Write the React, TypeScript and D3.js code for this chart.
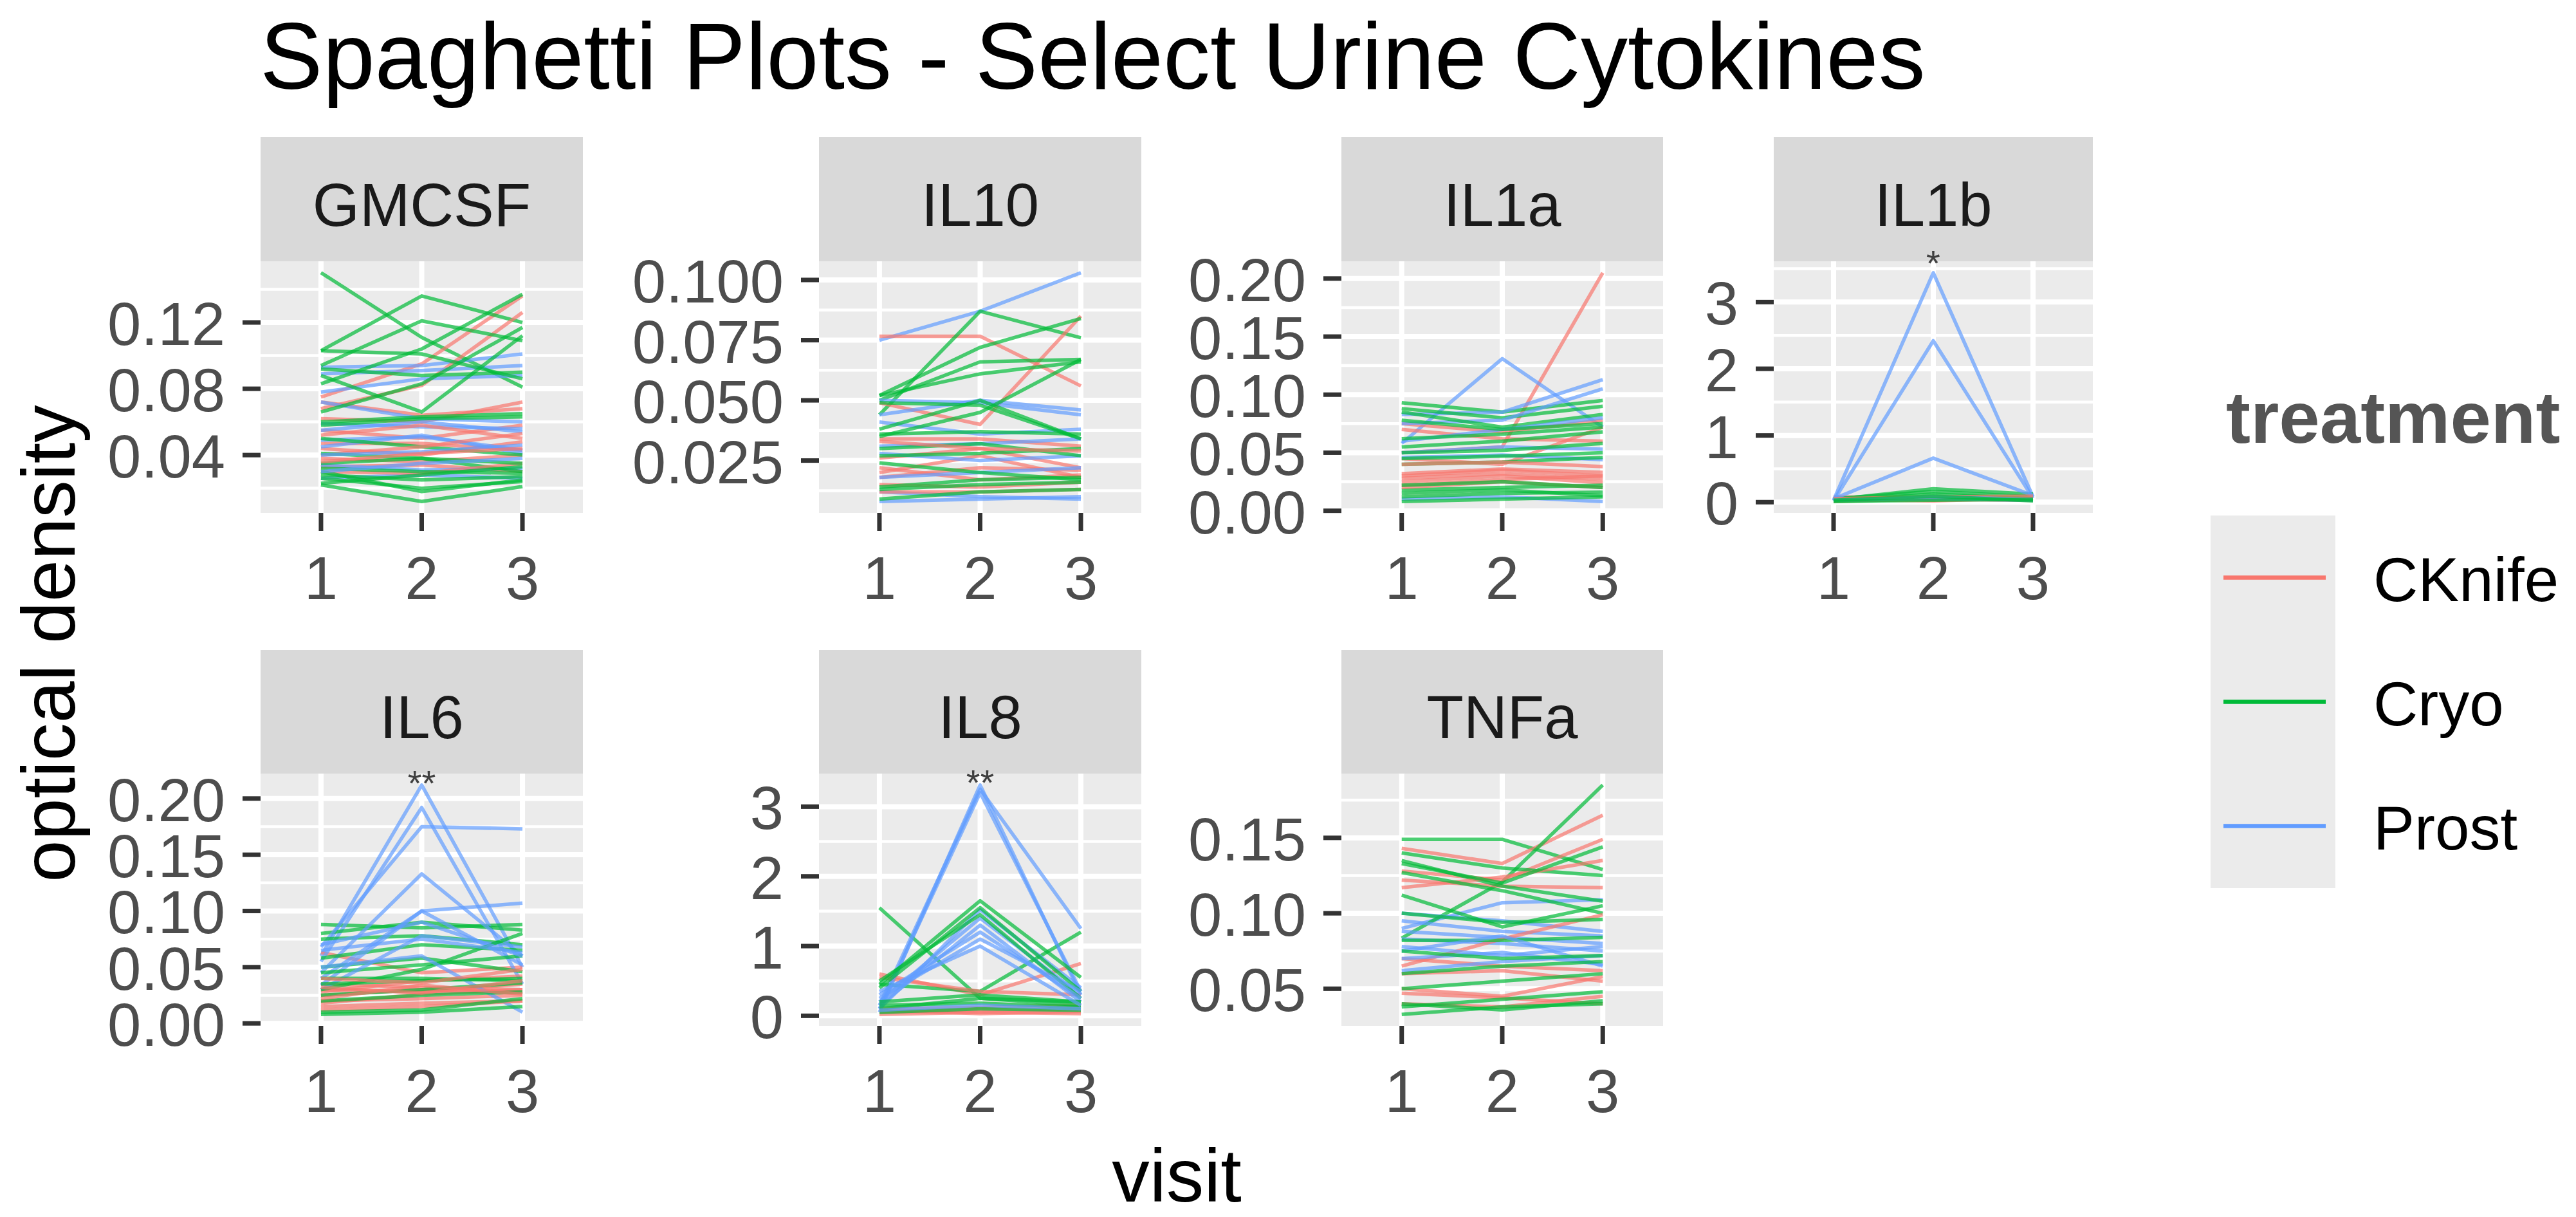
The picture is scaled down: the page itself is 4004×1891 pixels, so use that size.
import React from "react";
import * as d3 from "d3";

// ---------------- DATA ----------------
const TREATMENTS = ["CKnife", "Cryo", "Prost"];
const TREATMENT_COLORS = ["#F8766D", "#00BA38", "#619CFF"];
const VISITS = [1, 2, 3];

// each row: [treatment index, visit1, visit2, visit3]
type Row = [number, number, number, number];

const GMCSF: Row[] = [
  [1, 0.150, 0.111, 0.081], [0, 0.075, 0.095, 0.136], [2, 0.093, 0.094, 0.101],
  [1, 0.103, 0.136, 0.120], [0, 0.068, 0.082, 0.126], [2, 0.089, 0.091, 0.094],
  [1, 0.083, 0.104, 0.137], [0, 0.062, 0.060, 0.072], [2, 0.078, 0.086, 0.088],
  [1, 0.094, 0.121, 0.109], [0, 0.072, 0.064, 0.068], [2, 0.072, 0.062, 0.060],
  [1, 0.103, 0.101, 0.086], [0, 0.055, 0.050, 0.058], [2, 0.059, 0.057, 0.056],
  [1, 0.066, 0.083, 0.117], [0, 0.047, 0.047, 0.043], [2, 0.055, 0.060, 0.054],
  [1, 0.088, 0.066, 0.112], [0, 0.044, 0.040, 0.048], [2, 0.049, 0.051, 0.043],
  [1, 0.092, 0.088, 0.090], [0, 0.038, 0.036, 0.040], [2, 0.026, 0.028, 0.026],
  [1, 0.060, 0.063, 0.065], [0, 0.033, 0.034, 0.030], [2, 0.045, 0.052, 0.041],
  [1, 0.058, 0.062, 0.063], [0, 0.052, 0.058, 0.050], [2, 0.034, 0.031, 0.032],
  [1, 0.050, 0.045, 0.040], [0, 0.040, 0.045, 0.053], [1, 0.035, 0.038, 0.030],
  [0, 0.030, 0.029, 0.035], [1, 0.028, 0.025, 0.027], [1, 0.022, 0.012, 0.021],
  [1, 0.030, 0.018, 0.025], [1, 0.041, 0.038, 0.035], [1, 0.023, 0.028, 0.033],
  [1, 0.026, 0.020, 0.024], [2, 0.040, 0.042, 0.046], [0, 0.036, 0.041, 0.044],
  [1, 0.032, 0.030, 0.029], [2, 0.030, 0.035, 0.038],
];

const IL10: Row[] = [
  [2, 0.075, 0.087, 0.103], [0, 0.0766, 0.0766, 0.056], [1, 0.044, 0.087, 0.076],
  [0, 0.049, 0.040, 0.085], [1, 0.052, 0.072, 0.084], [2, 0.044, 0.050, 0.046],
  [1, 0.050, 0.066, 0.067], [0, 0.034, 0.034, 0.031], [2, 0.050, 0.049, 0.044],
  [1, 0.052, 0.061, 0.066], [0, 0.026, 0.030, 0.022], [2, 0.041, 0.036, 0.038],
  [1, 0.049, 0.048, 0.034], [0, 0.020, 0.027, 0.018], [2, 0.031, 0.032, 0.034],
  [1, 0.038, 0.050, 0.034], [0, 0.018, 0.022, 0.021], [2, 0.028, 0.025, 0.027],
  [1, 0.036, 0.037, 0.036], [0, 0.015, 0.014, 0.016], [2, 0.012, 0.010, 0.009],
  [1, 0.035, 0.045, 0.067], [0, 0.012, 0.012, 0.013], [2, 0.008, 0.009, 0.010],
  [1, 0.030, 0.032, 0.027], [0, 0.022, 0.017, 0.019], [2, 0.018, 0.020, 0.022],
  [1, 0.027, 0.028, 0.030], [1, 0.014, 0.017, 0.018], [1, 0.013, 0.015, 0.016],
  [1, 0.009, 0.012, 0.013], [1, 0.024, 0.020, 0.017], [0, 0.033, 0.030, 0.029],
];

const IL1A: Row[] = [
  [0, 0.050, 0.055, 0.205], [2, 0.058, 0.131, 0.072], [1, 0.093, 0.085, 0.095],
  [0, 0.075, 0.068, 0.078], [2, 0.083, 0.085, 0.113], [1, 0.088, 0.080, 0.090],
  [0, 0.070, 0.062, 0.060], [2, 0.075, 0.078, 0.105], [1, 0.085, 0.072, 0.083],
  [0, 0.045, 0.040, 0.072], [2, 0.060, 0.070, 0.080], [1, 0.078, 0.070, 0.075],
  [0, 0.030, 0.035, 0.030], [2, 0.050, 0.055, 0.053], [1, 0.062, 0.066, 0.072],
  [0, 0.028, 0.032, 0.027], [2, 0.046, 0.048, 0.044], [1, 0.055, 0.060, 0.068],
  [0, 0.032, 0.036, 0.033], [2, 0.010, 0.012, 0.008], [1, 0.050, 0.052, 0.058],
  [0, 0.025, 0.030, 0.024], [1, 0.045, 0.047, 0.050], [0, 0.022, 0.027, 0.030],
  [1, 0.040, 0.042, 0.046], [0, 0.040, 0.042, 0.038], [1, 0.018, 0.020, 0.022],
  [0, 0.020, 0.025, 0.020], [1, 0.012, 0.015, 0.016], [1, 0.008, 0.010, 0.012],
  [1, 0.015, 0.018, 0.013], [1, 0.022, 0.025, 0.020],
];

const IL1B: Row[] = [
  [0, 0.08, 0.06, 0.07], [2, 0.03, 3.44, 0.08], [1, 0.04, 0.20, 0.12],
  [0, 0.06, 0.03, 0.05], [2, 0.02, 2.42, 0.06], [1, 0.05, 0.16, 0.08],
  [0, 0.04, 0.02, 0.06], [2, 0.05, 0.66, 0.10], [1, 0.02, 0.12, 0.05],
  [0, 0.05, 0.08, 0.09], [2, 0.02, 0.08, 0.04], [1, 0.01, 0.05, 0.03],
  [0, 0.02, 0.04, 0.03], [2, 0.03, 0.05, 0.03], [1, 0.03, 0.09, 0.02],
  [1, 0.012, 0.03, 0.04],
];

const IL6: Row[] = [
  [2, 0.060, 0.212, 0.050], [0, 0.063, 0.045, 0.050], [1, 0.088, 0.085, 0.088],
  [2, 0.055, 0.192, 0.035], [0, 0.030, 0.028, 0.035], [1, 0.080, 0.090, 0.083],
  [2, 0.068, 0.175, 0.173], [0, 0.025, 0.030, 0.027], [1, 0.075, 0.078, 0.070],
  [2, 0.045, 0.133, 0.060], [0, 0.020, 0.022, 0.025], [1, 0.058, 0.070, 0.065],
  [2, 0.040, 0.100, 0.107], [0, 0.035, 0.032, 0.030], [1, 0.050, 0.058, 0.046],
  [2, 0.034, 0.100, 0.052], [0, 0.015, 0.018, 0.020], [1, 0.045, 0.052, 0.060],
  [2, 0.030, 0.078, 0.068], [0, 0.028, 0.038, 0.042], [1, 0.030, 0.048, 0.080],
  [2, 0.065, 0.075, 0.063], [0, 0.018, 0.026, 0.030], [1, 0.040, 0.040, 0.038],
  [2, 0.050, 0.060, 0.010], [0, 0.012, 0.015, 0.020], [1, 0.035, 0.038, 0.040],
  [2, 0.070, 0.090, 0.060], [0, 0.040, 0.036, 0.048], [1, 0.010, 0.012, 0.022],
  [1, 0.008, 0.010, 0.015], [1, 0.020, 0.025, 0.028], [1, 0.025, 0.030, 0.036],
  [0, 0.022, 0.034, 0.026], [0, 0.032, 0.027, 0.038],
];

const IL8: Row[] = [
  [2, 0.05, 3.31, 0.30], [1, 1.55, 0.25, 0.20], [0, 0.60, 0.30, 0.75],
  [2, 0.15, 3.25, 1.25], [1, 0.45, 0.35, 1.20], [0, 0.55, 0.35, 0.30],
  [2, 0.10, 3.20, 0.35], [1, 0.45, 1.65, 0.55], [0, 0.10, 0.12, 0.15],
  [2, 0.10, 1.52, 0.40], [1, 0.40, 1.55, 0.35], [0, 0.05, 0.08, 0.10],
  [2, 0.20, 1.40, 0.30], [1, 0.50, 1.45, 0.25], [0, 0.02, 0.05, 0.03],
  [2, 0.15, 1.30, 0.20], [1, 0.20, 0.30, 0.20], [0, 0.08, 0.03, 0.06],
  [2, 0.30, 1.20, 0.25], [1, 0.10, 0.25, 0.15], [2, 0.25, 1.10, 0.35],
  [1, 0.15, 0.18, 0.12], [2, 0.35, 1.00, 0.15], [1, 0.05, 0.10, 0.08],
  [2, 0.08, 0.15, 0.10],
];

const TNFA: Row[] = [
  [1, 0.149, 0.149, 0.129], [0, 0.143, 0.133, 0.165], [2, 0.090, 0.107, 0.109],
  [1, 0.0836, 0.1207, 0.185], [0, 0.128, 0.122, 0.149], [2, 0.100, 0.095, 0.088],
  [1, 0.140, 0.130, 0.125], [0, 0.122, 0.118, 0.117], [2, 0.095, 0.088, 0.085],
  [1, 0.135, 0.118, 0.108], [0, 0.117, 0.124, 0.135], [2, 0.088, 0.084, 0.080],
  [1, 0.133, 0.120, 0.144], [0, 0.070, 0.065, 0.062], [2, 0.083, 0.080, 0.075],
  [1, 0.127, 0.115, 0.100], [0, 0.065, 0.083, 0.099], [2, 0.078, 0.072, 0.078],
  [1, 0.112, 0.091, 0.105], [0, 0.050, 0.045, 0.058], [2, 0.070, 0.074, 0.066],
  [1, 0.100, 0.094, 0.096], [0, 0.047, 0.044, 0.040], [2, 0.062, 0.068, 0.072],
  [1, 0.082, 0.082, 0.084], [0, 0.040, 0.038, 0.045], [2, 0.075, 0.085, 0.065],
  [1, 0.075, 0.070, 0.072], [0, 0.060, 0.062, 0.055], [1, 0.060, 0.065, 0.068],
  [1, 0.050, 0.055, 0.060], [1, 0.038, 0.043, 0.048], [1, 0.033, 0.038, 0.040],
  [1, 0.040, 0.036, 0.042],
];

const GMCSF_TICKS = [0.04, 0.08, 0.12];
const GMCSF_LABELS = ["0.04", "0.08", "0.12"];
const IL10_TICKS = [0.025, 0.05, 0.075, 0.1];
const IL10_LABELS = ["0.025", "0.050", "0.075", "0.100"];
const IL1A_TICKS = [0, 0.05, 0.1, 0.15, 0.2];
const IL1A_LABELS = ["0.00", "0.05", "0.10", "0.15", "0.20"];
const IL1B_TICKS = [0, 1, 2, 3];
const IL1B_LABELS = ["0", "1", "2", "3"];
const IL6_TICKS = [0, 0.05, 0.1, 0.15, 0.2];
const IL6_LABELS = ["0.00", "0.05", "0.10", "0.15", "0.20"];
const IL8_TICKS = [0, 1, 2, 3];
const IL8_LABELS = ["0", "1", "2", "3"];
const TNFA_TICKS = [0.05, 0.1, 0.15];
const TNFA_LABELS = ["0.05", "0.10", "0.15"];

// significance marks: [panel, text, visit, y value]
const STARS: [string, string, number, number][] = [
  ["IL1b", "*", 2, 3.69],
  ["IL6", "**", 2, 0.22],
  ["IL8", "**", 2, 3.45],
];

const TITLE = "Spaghetti Plots - Select Urine Cytokines";
const X_TITLE = "visit";
const Y_TITLE = "optical density";
const LEGEND_TITLE = "treatment";

// ---------------- LAYOUT ----------------
const W = 4004;
const H = 1891;
const FONT = "'Liberation Sans', Arial, Helvetica, sans-serif";
const COLS: [number, number][] = [
  [405, 906],
  [1273, 1774],
  [2085, 2585],
  [2757, 3253],
];
const ROWS = [
  { stripTop: 213, top: 406, bottom: 797 },
  { stripTop: 1010, top: 1202, bottom: 1594 },
];

const PANELS = [
  { name: "GMCSF", data: GMCSF, ticks: GMCSF_TICKS, labels: GMCSF_LABELS, col: 0, row: 0 },
  { name: "IL10", data: IL10, ticks: IL10_TICKS, labels: IL10_LABELS, col: 1, row: 0 },
  { name: "IL1a", data: IL1A, ticks: IL1A_TICKS, labels: IL1A_LABELS, col: 2, row: 0 },
  { name: "IL1b", data: IL1B, ticks: IL1B_TICKS, labels: IL1B_LABELS, col: 3, row: 0 },
  { name: "IL6", data: IL6, ticks: IL6_TICKS, labels: IL6_LABELS, col: 0, row: 1 },
  { name: "IL8", data: IL8, ticks: IL8_TICKS, labels: IL8_LABELS, col: 1, row: 1 },
  { name: "TNFa", data: TNFA, ticks: TNFA_TICKS, labels: TNFA_LABELS, col: 2, row: 1 },
];

const AXIS_TEXT = 94;
const TICK_LEN = 28;

function Panel({ p }: { p: (typeof PANELS)[number] }) {
  const [x0, x1] = COLS[p.col];
  const r = ROWS[p.row];
  const vals = p.data.flatMap((d) => [d[1], d[2], d[3]]);
  const [mn, mx] = d3.extent(vals) as [number, number];
  const pad = (mx - mn) * 0.05;
  const y = d3.scaleLinear().domain([mn - pad, mx + pad]).range([r.bottom, r.top]);
  const x = d3.scalePoint<number>().domain(VISITS).range([x0, x1]).padding(0.6);
  const step = p.ticks[1] - p.ticks[0];
  const [dlo, dhi] = y.domain();
  const minors: number[] = [];
  for (let k = -2; k <= p.ticks.length + 2; k++) {
    const v = p.ticks[0] - step / 2 + k * step;
    if (v >= dlo && v <= dhi) minors.push(v);
  }
  const line = d3
    .line<number>()
    .x((_, i) => x(VISITS[i]) as number)
    .y((v) => y(v));
  const stars = STARS.filter((s) => s[0] === p.name);
  return (
    <g>
      <rect x={x0} y={r.top} width={x1 - x0} height={r.bottom - r.top} fill="#EBEBEB" />
      {minors.map((v, i) => (
        <line key={"mi" + i} x1={x0} x2={x1} y1={y(v)} y2={y(v)} stroke="#FFFFFF" strokeWidth={4.5} />
      ))}
      {p.ticks.map((v, i) => (
        <line key={"ma" + i} x1={x0} x2={x1} y1={y(v)} y2={y(v)} stroke="#FFFFFF" strokeWidth={8} />
      ))}
      {VISITS.map((v) => (
        <line key={"vx" + v} x1={x(v)} x2={x(v)} y1={r.top} y2={r.bottom} stroke="#FFFFFF" strokeWidth={8} />
      ))}
      {p.data.map((d, i) => (
        <path
          key={"l" + i}
          d={line([d[1], d[2], d[3]]) as string}
          fill="none"
          stroke={TREATMENT_COLORS[d[0]]}
          strokeOpacity={0.7}
          strokeWidth={5.5}
          strokeLinejoin="round"
        />
      ))}
      {/* strip */}
      <rect x={x0} y={r.stripTop} width={x1 - x0} height={r.top - r.stripTop} fill="#D9D9D9" />
      <text
        x={(x0 + x1) / 2}
        y={r.top - 55}
        textAnchor="middle"
        fontFamily={FONT}
        fontSize={AXIS_TEXT}
        fill="#1A1A1A"
      >
        {p.name}
      </text>
      {/* y axis */}
      {p.ticks.map((v, i) => (
        <g key={"yt" + i}>
          <line x1={x0 - TICK_LEN} x2={x0} y1={y(v)} y2={y(v)} stroke="#333333" strokeWidth={7} />
          <text
            x={x0 - TICK_LEN - 27}
            y={y(v) + 35}
            textAnchor="end"
            fontFamily={FONT}
            fontSize={AXIS_TEXT}
            fill="#4D4D4D"
          >
            {p.labels[i]}
          </text>
        </g>
      ))}
      {/* x axis */}
      {VISITS.map((v) => (
        <g key={"xt" + v}>
          <line x1={x(v)} x2={x(v)} y1={r.bottom} y2={r.bottom + TICK_LEN} stroke="#333333" strokeWidth={7} />
          <text
            x={x(v)}
            y={r.bottom + 134}
            textAnchor="middle"
            fontFamily={FONT}
            fontSize={AXIS_TEXT}
            fill="#4D4D4D"
          >
            {String(v)}
          </text>
        </g>
      ))}
      {stars.map((s, i) => (
        <text
          key={"s" + i}
          x={x(s[2])}
          y={y(s[3]) + 30}
          textAnchor="middle"
          fontFamily={FONT}
          fontSize={56}
          fill="#404040"
        >
          {s[1]}
        </text>
      ))}
    </g>
  );
}

export default function App() {
  const legendTop = 801;
  const keyH = 193;
  return (
    <svg
      width={W}
      height={H}
      viewBox={`0 0 ${W} ${H}`}
      style={{ position: "absolute", left: 0, top: 0, display: "block", background: "#FFFFFF" }}
    >
      <rect x={0} y={0} width={W} height={H} fill="#FFFFFF" />
      <text x={404} y={138} fontFamily={FONT} fontSize={146} fill="#000000">
        {TITLE}
      </text>
      {PANELS.map((p) => (
        <Panel key={p.name} p={p} />
      ))}
      <text
        x={(COLS[0][0] + COLS[3][1]) / 2}
        y={1867}
        textAnchor="middle"
        fontFamily={FONT}
        fontSize={117}
        fill="#000000"
      >
        {X_TITLE}
      </text>
      <text
        transform={`translate(116, ${(ROWS[0].top + ROWS[1].bottom) / 2}) rotate(-90)`}
        textAnchor="middle"
        fontFamily={FONT}
        fontSize={117}
        fill="#000000"
      >
        {Y_TITLE}
      </text>
      {/* legend */}
      <text x={3460} y={688} fontFamily={FONT} fontSize={114} fontWeight="bold" fill="#555555">
        {LEGEND_TITLE}
      </text>
      <rect x={3436} y={legendTop} width={194} height={keyH * 3} fill="#EBEBEB" />
      {TREATMENTS.map((t, i) => {
        const cy = legendTop + keyH * i + keyH / 2;
        return (
          <g key={t}>
            <line x1={3456} x2={3615} y1={cy} y2={cy} stroke={TREATMENT_COLORS[i]} strokeWidth={6.5} />
            <text x={3689} y={cy + 36} fontFamily={FONT} fontSize={96} fill="#000000">
              {t}
            </text>
          </g>
        );
      })}
    </svg>
  );
}
